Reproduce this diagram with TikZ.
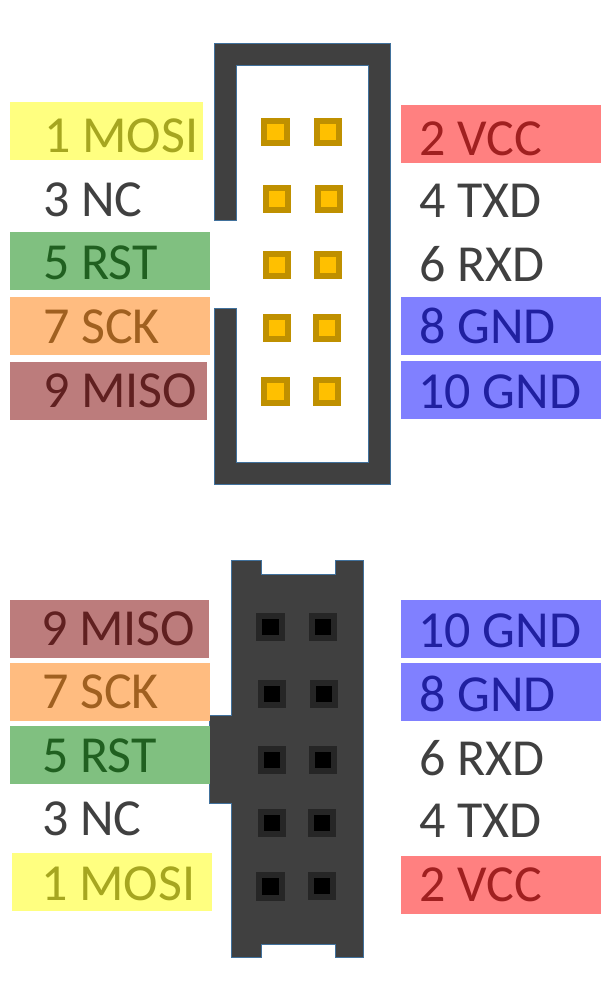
\documentclass[tikz,border=0pt]{standalone}
\usepackage{fontspec}
\setmainfont{Carlito}
\definecolor{bodydark}{HTML}{404040}
\definecolor{bodyedge}{HTML}{41719C}
\definecolor{goldfill}{HTML}{FFC000}
\definecolor{goldedge}{HTML}{BF9000}
\definecolor{holeedge}{HTML}{262626}
\definecolor{yellowbox}{HTML}{FFFF80}
\definecolor{yellowtext}{HTML}{A6A620}
\definecolor{redbox}{HTML}{FF8080}
\definecolor{redtext}{HTML}{A02020}
\definecolor{bluebox}{HTML}{8080FF}
\definecolor{bluetext}{HTML}{2020A0}
\definecolor{greenbox}{HTML}{80C080}
\definecolor{greentext}{HTML}{206020}
\definecolor{orangebox}{HTML}{FFBC80}
\definecolor{orangetext}{HTML}{A06020}
\definecolor{brownbox}{HTML}{BC7C7C}
\definecolor{browntext}{HTML}{602020}
\definecolor{plaintext}{HTML}{404040}
\begin{document}
\begin{tikzpicture}[
    x=0.75pt,
    y=-0.75pt,
    pinbox/.style={
      anchor=north west,
      minimum width=#1*0.75pt,
      minimum height=43.5pt,
      inner sep=0pt,
      outer sep=0pt
    },
    pintext/.style={
      anchor=base west,
      inner sep=0pt,
      font=\fontsize{39}{39}\selectfont
    },
    housing/.style={
      draw=bodyedge,
      fill=bodydark,
      line width=0.75pt
    },
    goldpin/.style={
      draw=goldedge,
      fill=goldfill,
      line width=4.5pt
    },
    blackpin/.style={
      draw=holeedge,
      fill=black,
      line width=4.5pt
    }
]
\useasboundingbox (0,0) rectangle (610,1000);

% Top connector
\draw [housing] (214.5,43.5) -- (390.5,43.5) -- (390.5,484.5) -- (214.5,484.5) -- (214.5,308) -- (236.5,308)
  -- (236.5,462) -- (368,462) -- (368,65.5) -- (236.5,65.5) -- (236.5,220) -- (214.5,220) -- cycle;

\foreach \xa/\xb/\ya/\yb in {261/290/118/146, 314/342/118/146, 263/291/185/213, 315/343/185/213,
    263/291/251/279, 314/342/251/279, 263/291/314/342, 313/341/314/342, 261/290/377/406, 313/341/377/406}
  \draw [goldpin] (\xa+3,\ya+3) rectangle (\xb-3,\yb-3);

% Bottom connector
\draw [housing] (231.5,560.5) -- (261.5,560.5) -- (261.5,574) -- (335,574) -- (335,560.5) -- (363.5,560.5)
  -- (363.5,957.5) -- (335,957.5) -- (335,944) -- (261.5,944) -- (261.5,957.5) -- (231.5,957.5) -- (231.5,803)
  -- (209.5,803) -- (209.5,715) -- (231.5,715) -- cycle;

\foreach \xa/\xb/\ya/\yb in {256/285/613/641, 309/337/613/641, 258/286/680/708, 310/338/680/708,
    258/286/746/774, 309/337/746/774, 258/286/809/837, 308/336/809/837, 256/285/872/901, 308/336/872/900}
  \draw [blackpin] (\xa+3,\ya+3) rectangle (\xb-3,\yb-3);

% Top left labels
\node (boxmosia) [pinbox=193, fill=yellowbox] at (10,102) {};
\node (mosia) [pintext, text=yellowtext] at (44,152) {1 MOSI};
\node (nca) [pintext, text=plaintext] at (43,216) {3 NC};
\node (boxrsta) [pinbox=200, fill=greenbox] at (10,232) {};
\node (rsta) [pintext, text=greentext] at (43,279) {5 RST};
\node (boxscka) [pinbox=200, fill=orangebox] at (10,297) {};
\node (scka) [pintext, text=orangetext] at (43,343) {7 SCK};
\node (boxmisoa) [pinbox=197, fill=brownbox] at (10,362) {};
\node (misoa) [pintext, text=browntext] at (43,407) {9 MISO};

% Top right labels
\node (boxvcca) [pinbox=200, fill=redbox] at (401,105) {};
\node (vcca) [pintext, text=redtext] at (419,155) {2 VCC};
\node (txda) [pintext, text=plaintext] at (419,217) {4 TXD};
\node (rxda) [pintext, text=plaintext] at (419,281) {6 RXD};
\node (boxgnda) [pinbox=200, fill=bluebox] at (401,297) {};
\node (gnda) [pintext, text=bluetext] at (419,343) {8 GND};
\node (boxgndc) [pinbox=200, fill=bluebox] at (401,361) {};
\node (gndc) [pintext, text=bluetext] at (418,408) {10 GND};

% Bottom left labels
\node (boxmisob) [pinbox=199, fill=brownbox] at (10,600) {};
\node (misob) [pintext, text=browntext] at (41,645) {9 MISO};
\node (boxsckb) [pinbox=200, fill=orangebox] at (10,663) {};
\node (sckb) [pintext, text=orangetext] at (42,708) {7 SCK};
\node (boxrstb) [pinbox=200, fill=greenbox] at (10,726) {};
\node (rstb) [pintext, text=greentext] at (42,772) {5 RST};
\node (ncb) [pintext, text=plaintext] at (42,835) {3 NC};
\node (boxmosib) [pinbox=200, fill=yellowbox] at (12,853) {};
\node (mosib) [pintext, text=yellowtext] at (41,900) {1 MOSI};

% Bottom right labels
\node (boxgndd) [pinbox=200, fill=bluebox] at (401,600) {};
\node (gndd) [pintext, text=bluetext] at (418,647) {10 GND};
\node (boxgndb) [pinbox=200, fill=bluebox] at (401,663) {};
\node (gndb) [pintext, text=bluetext] at (419,711) {8 GND};
\node (rxdb) [pintext, text=plaintext] at (419,775) {6 RXD};
\node (txdb) [pintext, text=plaintext] at (419,837) {4 TXD};
\node (boxvccb) [pinbox=200, fill=redbox] at (401,856) {};
\node (vccb) [pintext, text=redtext] at (419,901) {2 VCC};

\end{tikzpicture}
\end{document}
